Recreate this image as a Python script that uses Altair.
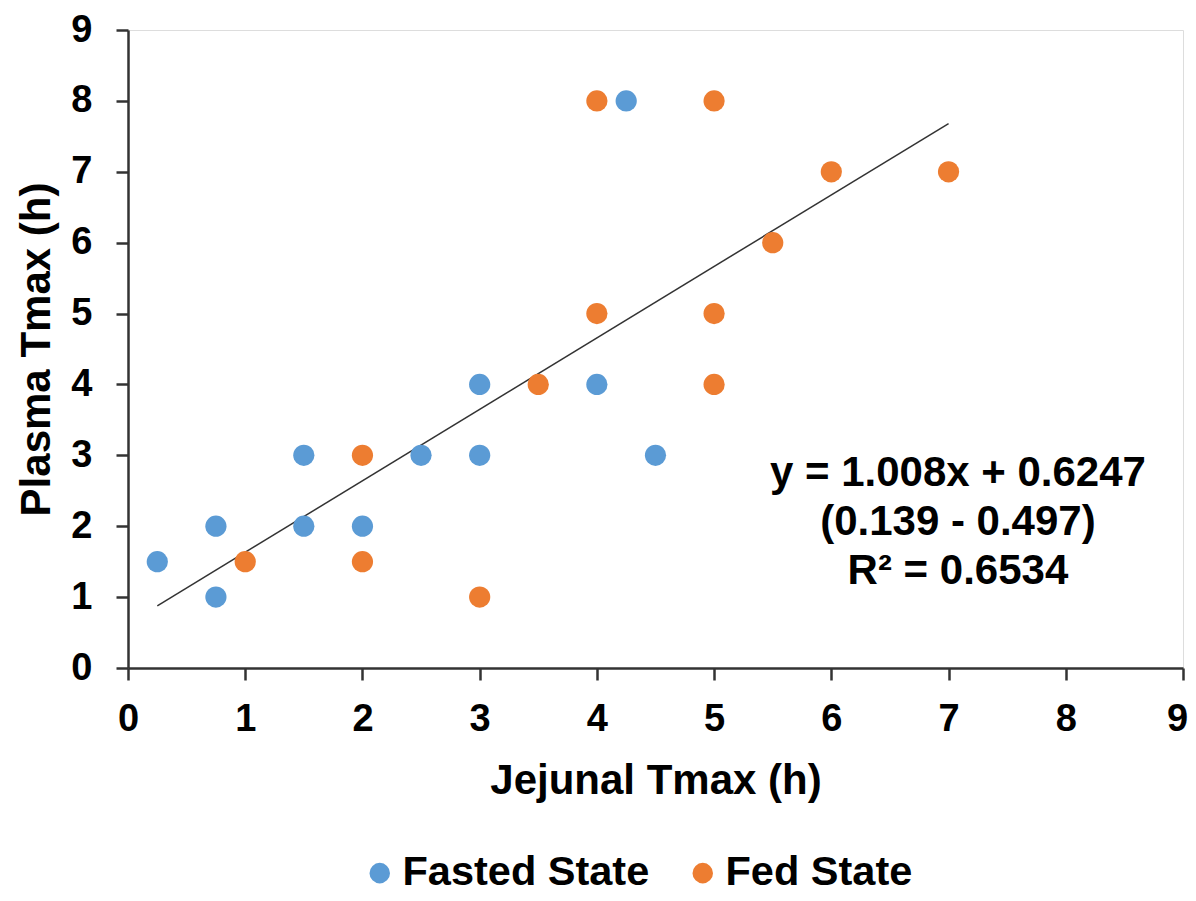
import altair as alt
import pandas as pd

fasted_x = [0.25, 0.75, 0.75, 1.5, 1.5, 2.0, 2.5, 3.0, 3.0, 4.0, 4.25, 4.5]
fasted_y = [1.5, 2.0, 1.0, 3.0, 2.0, 2.0, 3.0, 4.0, 3.0, 4.0, 8.0, 3.0]
fed_x = [1.0, 2.0, 2.0, 3.0, 3.5, 4.0, 4.0, 5.0, 5.0, 5.0, 5.5, 6.0, 7.0]
fed_y = [1.5, 3.0, 1.5, 1.0, 4.0, 8.0, 5.0, 8.0, 5.0, 4.0, 6.0, 7.0, 7.0]
groups = ["Fasted State", "Fed State"]
colors = ["#5B9BD5", "#ED7D31"]
slope, intercept = 1.008, 0.6247
ann_lines = ["y = 1.008x + 0.6247", "(0.139 - 0.497)", "R² = 0.6534"]
ann_x, ann_y = 7.08, 2.75

pts = pd.DataFrame(
    {"x": fasted_x + fed_x, "y": fasted_y + fed_y,
     "g": [groups[0]] * len(fasted_x) + [groups[1]] * len(fed_x)}
)
all_x = fasted_x + fed_x
xmin, xmax = min(all_x), max(all_x)
trend = pd.DataFrame({"x": [xmin, xmax], "y": [slope * xmin + intercept, slope * xmax + intercept]})
ann = pd.DataFrame({"x": [ann_x], "y": [ann_y], "t": ["\n".join(ann_lines)]})

FONT = "Liberation Sans"
xs = alt.Scale(domain=[0, 9], nice=False, zero=False)
ys = alt.Scale(domain=[0, 9], nice=False, zero=False)

xaxis = alt.Axis(values=list(range(10)), format="d", grid=False, tickSize=12, labelPadding=20,
                 labelFontSize=38, labelFont=FONT, labelFontWeight="bold", labelColor="#000",
                 labelOffset={"condition": {"test": "datum.value == 9", "value": -6}, "value": 0},
                 title="Jejunal Tmax (h)", titleFontSize=42, titleFont=FONT, titleFontWeight="bold",
                 titleColor="#000", titleY=112, titleBaseline="middle",
                 domainColor="#333", domainWidth=2.5, tickColor="#333", tickWidth=2.5,
                 labelFlush=False, labelOverlap=False)
yaxis = alt.Axis(values=list(range(10)), format="d", grid=False, tickSize=12, labelPadding=24,
                 labelFontSize=38, labelFont=FONT, labelFontWeight="bold", labelColor="#000",
                 title="Plasma Tmax (h)", titleFontSize=42, titleFont=FONT, titleFontWeight="bold",
                 titleColor="#000", titleX=-92, titleY=319, titleBaseline="middle", titleAlign="center",
                 domainColor="#333", domainWidth=2.5, tickColor="#333", tickWidth=2.5,
                 labelFlush=False, labelOverlap=False)

points = alt.Chart(pts).mark_circle(size=450, opacity=1).encode(
    x=alt.X("x:Q", scale=xs, axis=xaxis),
    y=alt.Y("y:Q", scale=ys, axis=yaxis),
    color=alt.Color("g:N", scale=alt.Scale(domain=groups, range=colors),
                    legend=alt.Legend(title=None, orient="none", direction="horizontal",
                                      legendX=231, legendY=822, symbolType="circle",
                                      symbolSize=420, labelFontSize=41.5, labelFont=FONT,
                                      labelFontWeight="bold", labelColor="#000", labelLimit=0,
                                      labelOffset=2, columnPadding=32, padding=0)),
)

line = alt.Chart(trend).mark_line(color="#333", strokeWidth=1.5).encode(
    x=alt.X("x:Q", scale=xs), y=alt.Y("y:Q", scale=ys)
)

text = alt.Chart(ann).mark_text(font=FONT, fontSize=42, fontWeight="bold", color="#000",
                                align="center", baseline="middle", lineBreak="\n",
                                lineHeight=49).encode(
    x=alt.X("x:Q", scale=xs), y=alt.Y("y:Q", scale=ys), text="t:N"
)

chart = alt.layer(line, points, text).properties(
    width=1055, height=638,
    autosize=alt.AutoSizeParams(type="none"),
    padding={"left": 120, "top": 22, "right": 5, "bottom": 225},
).configure_view(stroke="#333", strokeWidth=2.5).configure(background="white")

chart.save("out.html", embed_options={"renderer": "svg", "actions": False})
